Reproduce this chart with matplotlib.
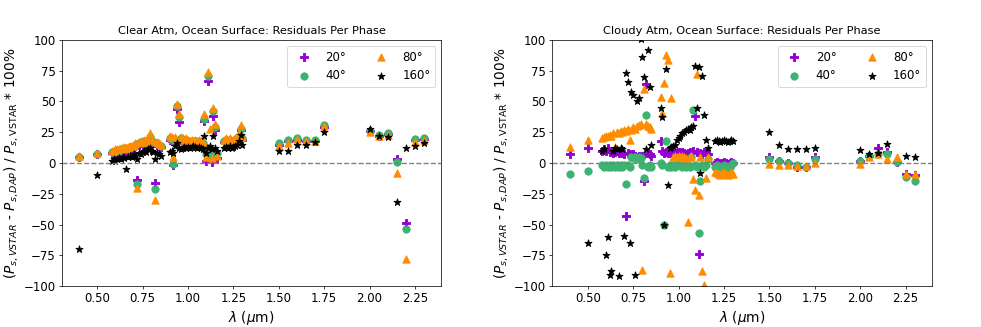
import numpy as np
import matplotlib.pyplot as plt

nan = np.nan

# wavelength grid (um), shared by both panels
wl = [0.40, 0.50,
      0.58, 0.59, 0.60, 0.61, 0.62, 0.63, 0.64, 0.65, 0.66, 0.67, 0.68, 0.69, 0.70, 0.71,
      0.72, 0.73, 0.74, 0.75, 0.76, 0.77, 0.78, 0.79, 0.80, 0.81, 0.82, 0.83, 0.84, 0.85,
      0.90, 0.91, 0.92, 0.93, 0.94, 0.95, 0.96, 0.97, 0.98, 0.99, 1.00, 1.01, 1.02, 1.03,
      1.04, 1.05, 1.06, 1.07, 1.08, 1.09, 1.10, 1.11, 1.12, 1.13, 1.14, 1.15, 1.16,
      1.20, 1.21, 1.22, 1.23, 1.24, 1.25, 1.26, 1.27, 1.28, 1.29, 1.30,
      1.50, 1.55, 1.60, 1.65, 1.70, 1.75,
      2.00, 2.05, 2.10, 2.15, 2.20, 2.25, 2.30]

# clear atmosphere residuals (%)
clear_20 = [4.5, 7,
            8, 8, 9, 9, 9, 10, 10, 11, 10, 11, 12, 12, 13, 14, -14, 15, 16, 15, 17, 16, 17, 19, 17, 16, -16, 15, 14, 13,
            19, 18, -2, 18, 44, 33, 19, 18, 17, 18, 17, 16, 17, 16, 17, 16, 17, 16, 15, 34, 2, 67, 3, 1, 38, 27, 4,
            17, 18, 17, 18, 16, 17, 18, 19, 21, 27, 19,
            15, 17.5, 19, 18, 18, 29.5,
            26, 22, 23.5, 3.5, -49, 19, 19.5]
clear_40 = [5, 7.5,
            9, 9, 10, 10, 10, 11, 11, 12, 11, 12, 13, 13, 14, 15, -17, 16, 17, 16, 18, 17, 18, 21, 18, 17, -21, 16, 15, 14,
            20, 19, -1, 19, 46, 37, 20, 19, 18, 19, 18, 17, 18, 17, 18, 17, 18, 17, 16, 36, 7, 71, 8, 6, 42, 29, 8,
            18, 19, 18, 19, 17, 18, 19, 20, 22, 28, 20,
            16, 18.5, 20, 19, 19, 30.6,
            26, 22.5, 24, 1, -54, 19.5, 20]
clear_80 = [5.5, 8,
            10, 10, 11, 11, 11, 12, 12, 13, 12, 13, 14, 14, 15, 16, -20, 17, 18, 17, 19, 18, 19, 24, 19, 18, -30, 17, 16, 15,
            22, 21, 5, 21, 48, 40, 21, 20, 19, 20, 19, 18, 19, 18, 19, 18, 19, 18, 17, 40, 5, 74, 28, 4, 45, 32, 6,
            19, 20, 19, 20, 18, 19, 20, 21, 24, 31, 21,
            14, 16, 19.5, 18, 18, 30,
            25, 22, 23, -8, -78, 17, 19]
clear_160 = [-70, -10,
             2, 3, 2, 3, 4, 3, 5, 4, -5, 5, 6, 5, 7, 6, 3, 8, 7, 9, 10, 9, 11, 12, 10, 9, 3, 8, 7, 6,
             9, 10, 8, 14, 16, 12, 11, 12, 13, 12, 13, 12, 13, 14, 13, 12, 13, 12, 11, 22, 8, 12, 14, 11, 22, 12, 10,
             12, 13, 12, 14, 12, 13, 14, 15, 18, 23, 15,
             10, 10, 15, 15, 17, 25,
             28, 22, 21, -32, 12, 13.5, 16]

# cloudy atmosphere residuals (%)
cloudy_20 = [7.6, 12,
             10, 11, 10, 12, 9, 10, 8, 9, 10, 8, 9, 8, 7, -43, 8, 7, 6, 7, 6, 5, 6, 5, 6, -15, 64, 8, 7, 6,
             18, 10, 8, 9, 8, 9, 8, 7, 8, 8, 9, 8, 9, 8, 7, 8, 9, 8, 10, 38, 9, -74, 8, 7, 9, 8, 7,
             0, 1, 0, -1, 0, 1, 0, -1, 0, 1, 0,
             5, 1.5, 0, -3, -3.5, 5,
             2, 6, 12.5, 9, 1, -9, -10]
cloudy_40 = [-8.6, -6.6,
             -2, -3, -2, -3, -2, -3, -2, -3, -2, -3, -2, -3, -2, -17, -2, -3, 5, 4, 5, 3, 5, 4, -2, -12, 39, -3, -2, -3,
             0, -2, -50, 18, -3, -2, -3, -2, -3, -2, 3, -2, -3, -2, -3, -2, -3, 5, 43, -2, -3, -57, -15, -2, -3, -2, 3,
             -3, -2, -3, -4, -3, -2, -3, -4, -3, -2, 0,
             3, 1.5, 0, -2, -3, 3,
             2, 6, 7.6, 7, 0.5, -11, -14.5]
cloudy_80 = [13, 18.5,
             20, 21, 22, 22, 23, 22, 24, 13, 25, 24, 26, 25, 27, 26, 28, 19, 27, 29, 28, 30, 31, 32, -87, 60, 32, 30, 29, 28,
             54, 41, 65, 88, 84, -89, 53, 5, 6, 5, 6, 5, 6, 5, 4, -48, 5, 6, -13, -22, 72, -26, 5, -88, -99, -12, 5,
             -7, -8, -9, -10, -8, -7, -9, -10, -8, -7, -9,
             -1, -1.8, -2, -2.5, -2.8, 0,
             -1, 5, 7.6, 3.5, 5, -8.6, -8.6]
cloudy_160 = [nan, -65,
              10, 11, -75, -60, -91, -88, 10, 12, 11, -92, 12, 11, -59, 73, 66, -65, 58, 55, -91, 50, 53, 101, 86, 70, 11, 92, 62, 15,
              45, 37, -50, 76, -18, 12, 13, 14, 15, 19, 20, 22, 24, 25, 27, 28, 27, 29, 30, 79, 45, 78, -8, 71, 39, 19, 12,
              18, 19, 18, 17, 18, 19, 18, 17, 18, 19, 18,
              25, 15, 11.7, 11, 11, 12.5,
              10.8, 7.6, 8.4, 15.2, nan, 6, 4.9]

phases = ["20°", "40°", "80°", "160°"]
colors = ["darkviolet", "mediumseagreen", "darkorange", "black"]
markers = ["P", "o", "^", "*"]

panels = [("Clear Atm, Ocean Surface: Residuals Per Phase", [clear_20, clear_40, clear_80, clear_160]),
          ("Cloudy Atm, Ocean Surface: Residuals Per Phase", [cloudy_20, cloudy_40, cloudy_80, cloudy_160])]

fig, axes = plt.subplots(1, 2, figsize=(15, 5), dpi=65.4)
plt.subplots_adjust(left=0.063, right=0.95, top=0.878, bottom=0.125, wspace=0.293)

for ax, (title, series) in zip(axes, panels):
    for vals, lab, c, m in zip(series, phases, colors, markers):
        ax.scatter(wl, vals, color=c, marker=m, s=65, label=lab)
    ax.axhline(0, color="gray", linestyle="--", linewidth=1.5)
    ax.set_ylim(-100, 100)
    ax.set_yticks(np.arange(-100, 101, 25))
    ax.tick_params(labelsize=13)
    ax.set_title(title, fontsize=12.5)
    ax.set_xlabel(r"$\lambda$ ($\mu$m)", fontsize=15)
    ax.set_ylabel(r"($P_{s, VSTAR}$ - $P_{s, DAP}$) / $P_{s,\mathrm{VSTAR}}$ * 100%", fontsize=15)
    ax.legend(loc="upper right", ncol=2, fontsize=13)

fig.savefig("out.png", dpi=65.4)
